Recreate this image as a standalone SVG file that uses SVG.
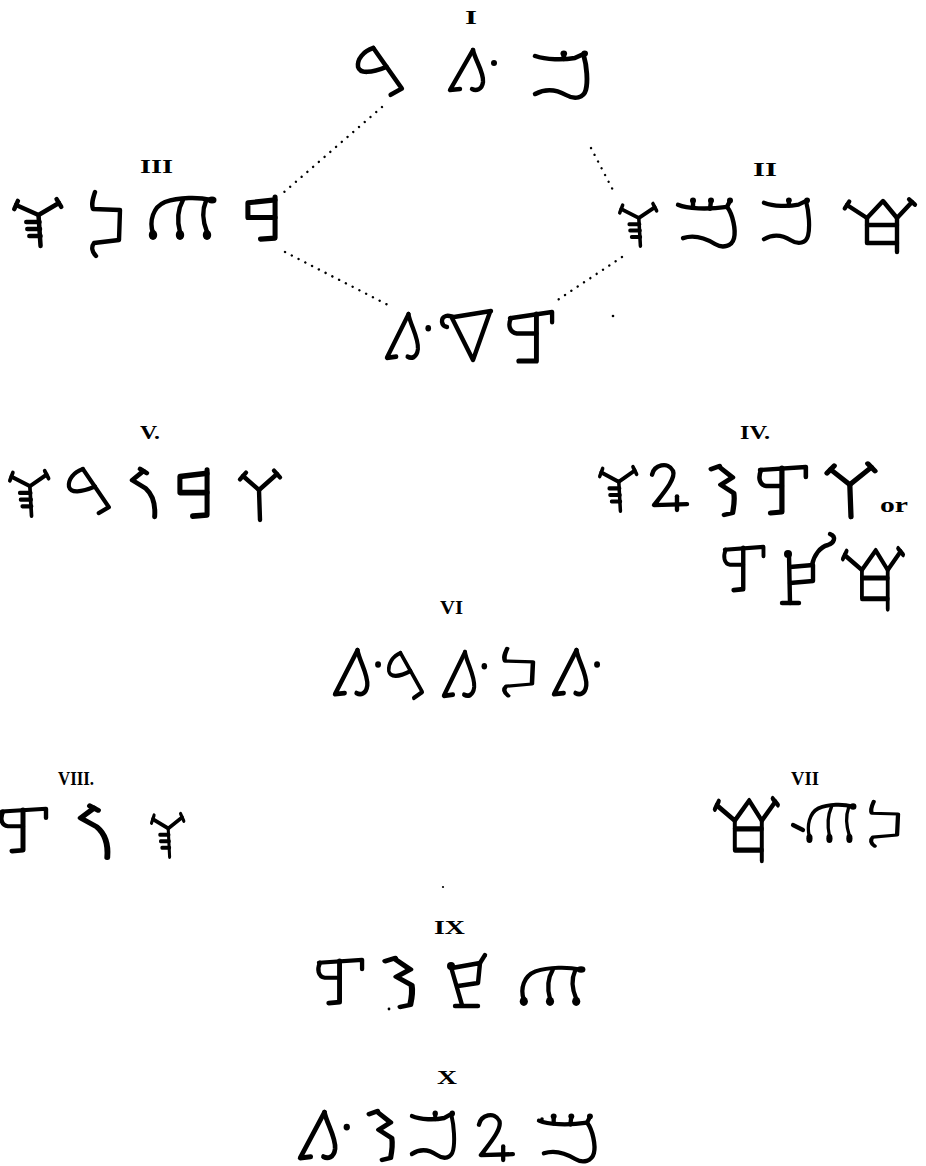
<svg xmlns="http://www.w3.org/2000/svg" xmlns:xlink="http://www.w3.org/1999/xlink" width="926" height="1166" viewBox="0 0 926 1166">
<style>
.gl path{fill:none;stroke:#000;stroke-width:4.4;stroke-linecap:round;stroke-linejoin:round}
.gl circle,.gl ellipse{fill:#000;stroke:none}
.lbl{font-family:"Liberation Serif","DejaVu Serif",serif;font-weight:bold;font-size:18px;fill:#000}
.dots{fill:none;stroke:#000;stroke-width:2.4;stroke-linecap:round;stroke-dasharray:0.1 7.5}
.tick{fill:none;stroke:#000;stroke-width:4.2;stroke-linecap:round}
</style>
<defs>
<g id="gA" class="gl"><path d="M16 1 C 6 4, 0 12, 1 19 C 3 26, 14 25, 29 19"/><path d="M16 1 L 44 40 L 33 46"/></g>
<g id="gB" class="gl"><path d="M25 2 L 2 42 L 12 41"/><path d="M25 2 C 27 12, 36 24, 35 34 C 34 42, 28 43, 24 41"/><circle cx="46" cy="15" r="3"/></g>
<g id="gC2" class="gl"><path d="M2 6 C 12 10, 28 10, 38 8 L 46 4"/><path d="M28 9 L 28 4"/><circle cx="28" cy="3.5" r="3"/><circle cx="47" cy="3.5" r="3"/><path d="M46 5 C 49 16, 50 32, 48 40 C 46 48, 38 50, 30 45 C 22 40, 12 38, 2 44"/></g>
<g id="gC3" class="gl"><path d="M1 8 C 10 12, 30 13, 50 10"/><path d="M16 11 L 16 4"/><circle cx="16" cy="3.5" r="3"/><path d="M33 12 L 34 4"/><circle cx="34" cy="3.5" r="3"/><path d="M50 10 L 53 4"/><circle cx="53" cy="3.5" r="3"/><path d="M50 10 C 56 18, 59 34, 57 42 C 55 50, 46 53, 38 48 C 30 43, 18 38, 6 42"/></g>
<g id="gD" class="gl"><path d="M4 10 L 26 20 L 46 8"/><path d="M2.2 14.1 L 5.8 5.9"/><path d="M43.7 4.1 L 48.3 11.9"/><path d="M26 20 L 28 51"/><path d="M14 27 L 27 27 M15 34 L 27.5 34 M17 41 L 28 41"/></g>
<g id="gE" class="gl"><path d="M7 2 C 5 8, 3 14, 5 19 L 32 20 L 31 50 L 6 53 C 3 57, 4 62, 8 66"/></g>
<g id="gF" class="gl"><path d="M6 38 C 2 26, 6 12, 18 7 C 32 2, 52 2, 64 5"/><path d="M36 5 C 31 14, 30 26, 33 37"/><path d="M59 6 C 55 15, 56 27, 60 37"/><ellipse cx="6" cy="40" rx="4.2" ry="5"/><ellipse cx="33" cy="40" rx="4.2" ry="5"/><ellipse cx="60" cy="40" rx="4.2" ry="5"/><ellipse cx="65" cy="5" rx="4.5" ry="3.5"/></g>
<g id="gG" class="gl"><path d="M31 5 L 3 8 L 3 23 L 31 23" style="stroke-width:5.2"/><path d="M31 2 L 31 44 L 16 45" style="stroke-width:5.2"/></g>
<g id="gH1" class="gl"><path d="M2 8 L 45 2 L 45 12"/><path d="M3 8 C 0 14, 1 22, 9 23 L 29 23"/><path d="M29 4 L 29 50 L 11 50" style="stroke-width:5"/></g>
<g id="gH2" class="gl"><path d="M2 5 L 46 2 L 46 12"/><path d="M3 5 C 0 12, 1 20, 8 21 L 23 21"/><path d="M23 3 L 23 47 L 12 48" style="stroke-width:5"/></g>
<g id="gJ" class="gl"><path d="M12 1 L 2 10 L 14 18 C 20 24, 23 32, 22 46"/><path d="M9 -1 L 15 3"/></g>
<g id="gK" class="gl"><path d="M1 4 L 8 1"/><path d="M8 2 L 19 12 L 9 19 L 20 27 C 21 34, 20 40, 19 46 L 12 48"/></g>
<g id="gL" class="gl"><path d="M3 6 L 19 20 L 37 4"/><path d="M0 9.4 L 6 2.6"/><path d="M34 0.6 L 40 7.4"/><path d="M19 20 L 20 50"/></g>
<g id="gM" class="gl"><path d="M2 12 C 4 2, 18 -2, 23 8 C 26 16, 14 30, 4 43 L 37 42"/><path d="M27 34 L 27 48"/></g>
<g id="gN" class="gl"><path d="M7 17 C 1 16, 0 8, 6 6 C 9 5, 12 7, 14 7 L 51 1"/><path d="M12 8 L 33 50 L 50 2"/></g>
<g id="gP" class="gl"><path d="M2 7 L 22 20 L 38 3 L 52 20 L 67 4"/><path d="M-0.2 10.4 L 4.2 3.6"/><path d="M64.1 1.3 L 69.9 6.7"/><path d="M22 20 L 22 45 L 52 45"/><path d="M52 20 L 52 54"/><path d="M22 27 L 52 27"/></g>
<g id="gQ" class="gl"><path d="M7 21 L 8 70"/><path d="M0 70 L 17 70"/><path d="M8 34 L 31 32 L 31 48 L 8 50"/><path d="M30 32 C 32 22, 38 14, 46 12 C 52 10, 55 4, 48 1"/><circle cx="6" cy="21" r="4"/></g>
<g id="gQ2" class="gl"><path d="M3 14 L 14 52"/><path d="M7 53 L 30 53"/><path d="M4 15 L 32 10 L 30 30 L 10 33"/><path d="M32 10 L 37 2"/><circle cx="3" cy="13" r="4"/></g>
</defs>
<rect width="926" height="1166" fill="#fff"/>

<g id="connectors">
<path class="dots" d="M382 107 L 283 193"/>
<path class="dots" d="M591 148 L 615 194"/>
<path class="dots" d="M285 252 L 390 306"/>
<path class="dots" d="M622 257 L 553 303"/>
</g>

<g id="node-I">
<text class="lbl" x="465" y="24" textLength="12" lengthAdjust="spacingAndGlyphs">I</text>
<use xlink:href="#gA" transform="translate(357,47) scale(1.02,1.04)"/>
<use xlink:href="#gB" transform="translate(448,48)"/>
<use xlink:href="#gC2" transform="translate(533,50) scale(1.1,1)"/>
</g>

<g id="node-III">
<text class="lbl" x="140" y="173" textLength="33" lengthAdjust="spacingAndGlyphs">III</text>
<use xlink:href="#gD" transform="translate(12,195) scale(1.02,1)"/>
<use xlink:href="#gE" transform="translate(88,190)"/>
<use xlink:href="#gF" transform="translate(147,195)"/>
<use xlink:href="#gG" transform="translate(245,195) scale(0.97,0.98)"/>
</g>

<g id="node-II">
<text class="lbl" x="753" y="176" textLength="24" lengthAdjust="spacingAndGlyphs">II</text>
<use xlink:href="#gD" transform="translate(618,200) scale(0.8,0.9)"/>
<use xlink:href="#gC3" transform="translate(677,197) scale(1,0.98)"/>
<use xlink:href="#gC2" transform="translate(762,197) scale(0.96,0.96)"/>
<use xlink:href="#gP" transform="translate(845,198)"/>
</g>

<g id="node-bottom">
<use xlink:href="#gB" transform="translate(385,312) scale(0.94,1.09)"/>
<use xlink:href="#gN" transform="translate(440,310)"/>
<use xlink:href="#gH1" transform="translate(508,310) scale(0.98,1.02)"/>
</g>

<g id="node-V">
<text class="lbl" x="140" y="439" textLength="20" lengthAdjust="spacingAndGlyphs">V.</text>
<use xlink:href="#gD" transform="translate(8,467) scale(0.84,0.96)"/>
<use xlink:href="#gA" transform="translate(68,468) scale(0.93,0.98)"/>
<use xlink:href="#gJ" transform="translate(130,470) scale(1.12,1.02)"/>
<use xlink:href="#gG" transform="translate(177,468) scale(0.97,1.07)"/>
<use xlink:href="#gL" transform="translate(240,470)"/>
</g>

<g id="node-IV">
<text class="lbl" x="740" y="439" textLength="30" lengthAdjust="spacingAndGlyphs">IV.</text>
<use xlink:href="#gD" transform="translate(598,463) scale(0.8,0.94)"/>
<use xlink:href="#gM" transform="translate(650,463) scale(1,0.98)"/>
<use xlink:href="#gK" transform="translate(710,465) scale(1.19,1.04)"/>
<use xlink:href="#gH2" transform="translate(758,465) scale(1.04,1)"/>
<use xlink:href="#gL" transform="translate(827,463) scale(1.2,1.08)"/>
<text x="880" y="512" style="font-family:'Liberation Serif','DejaVu Serif',serif;font-size:22px;font-weight:bold" textLength="28" lengthAdjust="spacingAndGlyphs">or</text>
<use xlink:href="#gH2" transform="translate(723,545) scale(0.88,0.94)"/>
<use xlink:href="#gQ" transform="translate(782,533)"/>
<use xlink:href="#gP" transform="translate(843,547) scale(0.86,1.15)"/>
</g>

<g id="node-VI">
<text class="lbl" x="440" y="614" textLength="23" lengthAdjust="spacingAndGlyphs">VI</text>
<use xlink:href="#gB" transform="translate(333,648) scale(0.98,1.1)"/>
<use xlink:href="#gA" transform="translate(388,652) scale(0.78,1)"/>
<use xlink:href="#gB" transform="translate(442,650) scale(0.92,1.09)"/>
<use xlink:href="#gE" transform="translate(500,647) scale(1.03,0.74)"/>
<use xlink:href="#gB" transform="translate(552,648) scale(0.98,1.1)"/>
</g>

<g id="node-VIII">
<text class="lbl" x="58" y="785" textLength="36" lengthAdjust="spacingAndGlyphs">VIII.</text>
<use xlink:href="#gH2" transform="translate(0,807) scale(1,0.92)"/>
<use xlink:href="#gJ" transform="translate(78,807) scale(1.33,1.1)"/>
<use xlink:href="#gD" transform="translate(150,810) scale(0.7,0.92)"/>
</g>

<g id="node-VII">
<text class="lbl" x="791" y="785" textLength="28" lengthAdjust="spacingAndGlyphs">VII</text>
<use xlink:href="#gP" transform="translate(715,797) scale(0.9,1.18)"/>
<path class="tick" d="M793 825 L 803 830"/>
<use xlink:href="#gF" transform="translate(805,802) scale(0.74,0.91)"/>
<use xlink:href="#gE" transform="translate(867,800) scale(0.97,0.7)"/>
</g>

<g id="node-IX">
<text class="lbl" x="434" y="934" textLength="31" lengthAdjust="spacingAndGlyphs">IX</text>
<use xlink:href="#gH2" transform="translate(317,958) scale(0.98,0.94)"/>
<use xlink:href="#gK" transform="translate(384,957) scale(1.38,1.04)"/>
<circle cx="389" cy="1009" r="1.4"/>
<use xlink:href="#gQ2" transform="translate(448,953)"/>
<use xlink:href="#gF" transform="translate(518,965) scale(0.97,0.91)"/>
</g>

<g id="node-X">
<text class="lbl" x="437" y="1084" textLength="20" lengthAdjust="spacingAndGlyphs">X</text>
<use xlink:href="#gB" transform="translate(298,1110) scale(1.06,1.14)"/>
<use xlink:href="#gK" transform="translate(368,1110) scale(1.19,1.04)"/>
<use xlink:href="#gC2" transform="translate(410,1110) scale(0.9,1)"/>
<use xlink:href="#gM" transform="translate(477,1113) scale(0.97,0.98)"/>
<circle cx="542" cy="1119" r="1.8"/>
<use xlink:href="#gC3" transform="translate(538,1113) scale(0.98,0.96)"/>
</g>

<g id="specks">
<circle cx="613" cy="316" r="1.3"/>
<circle cx="443" cy="887" r="1.1"/>
</g>
</svg>
